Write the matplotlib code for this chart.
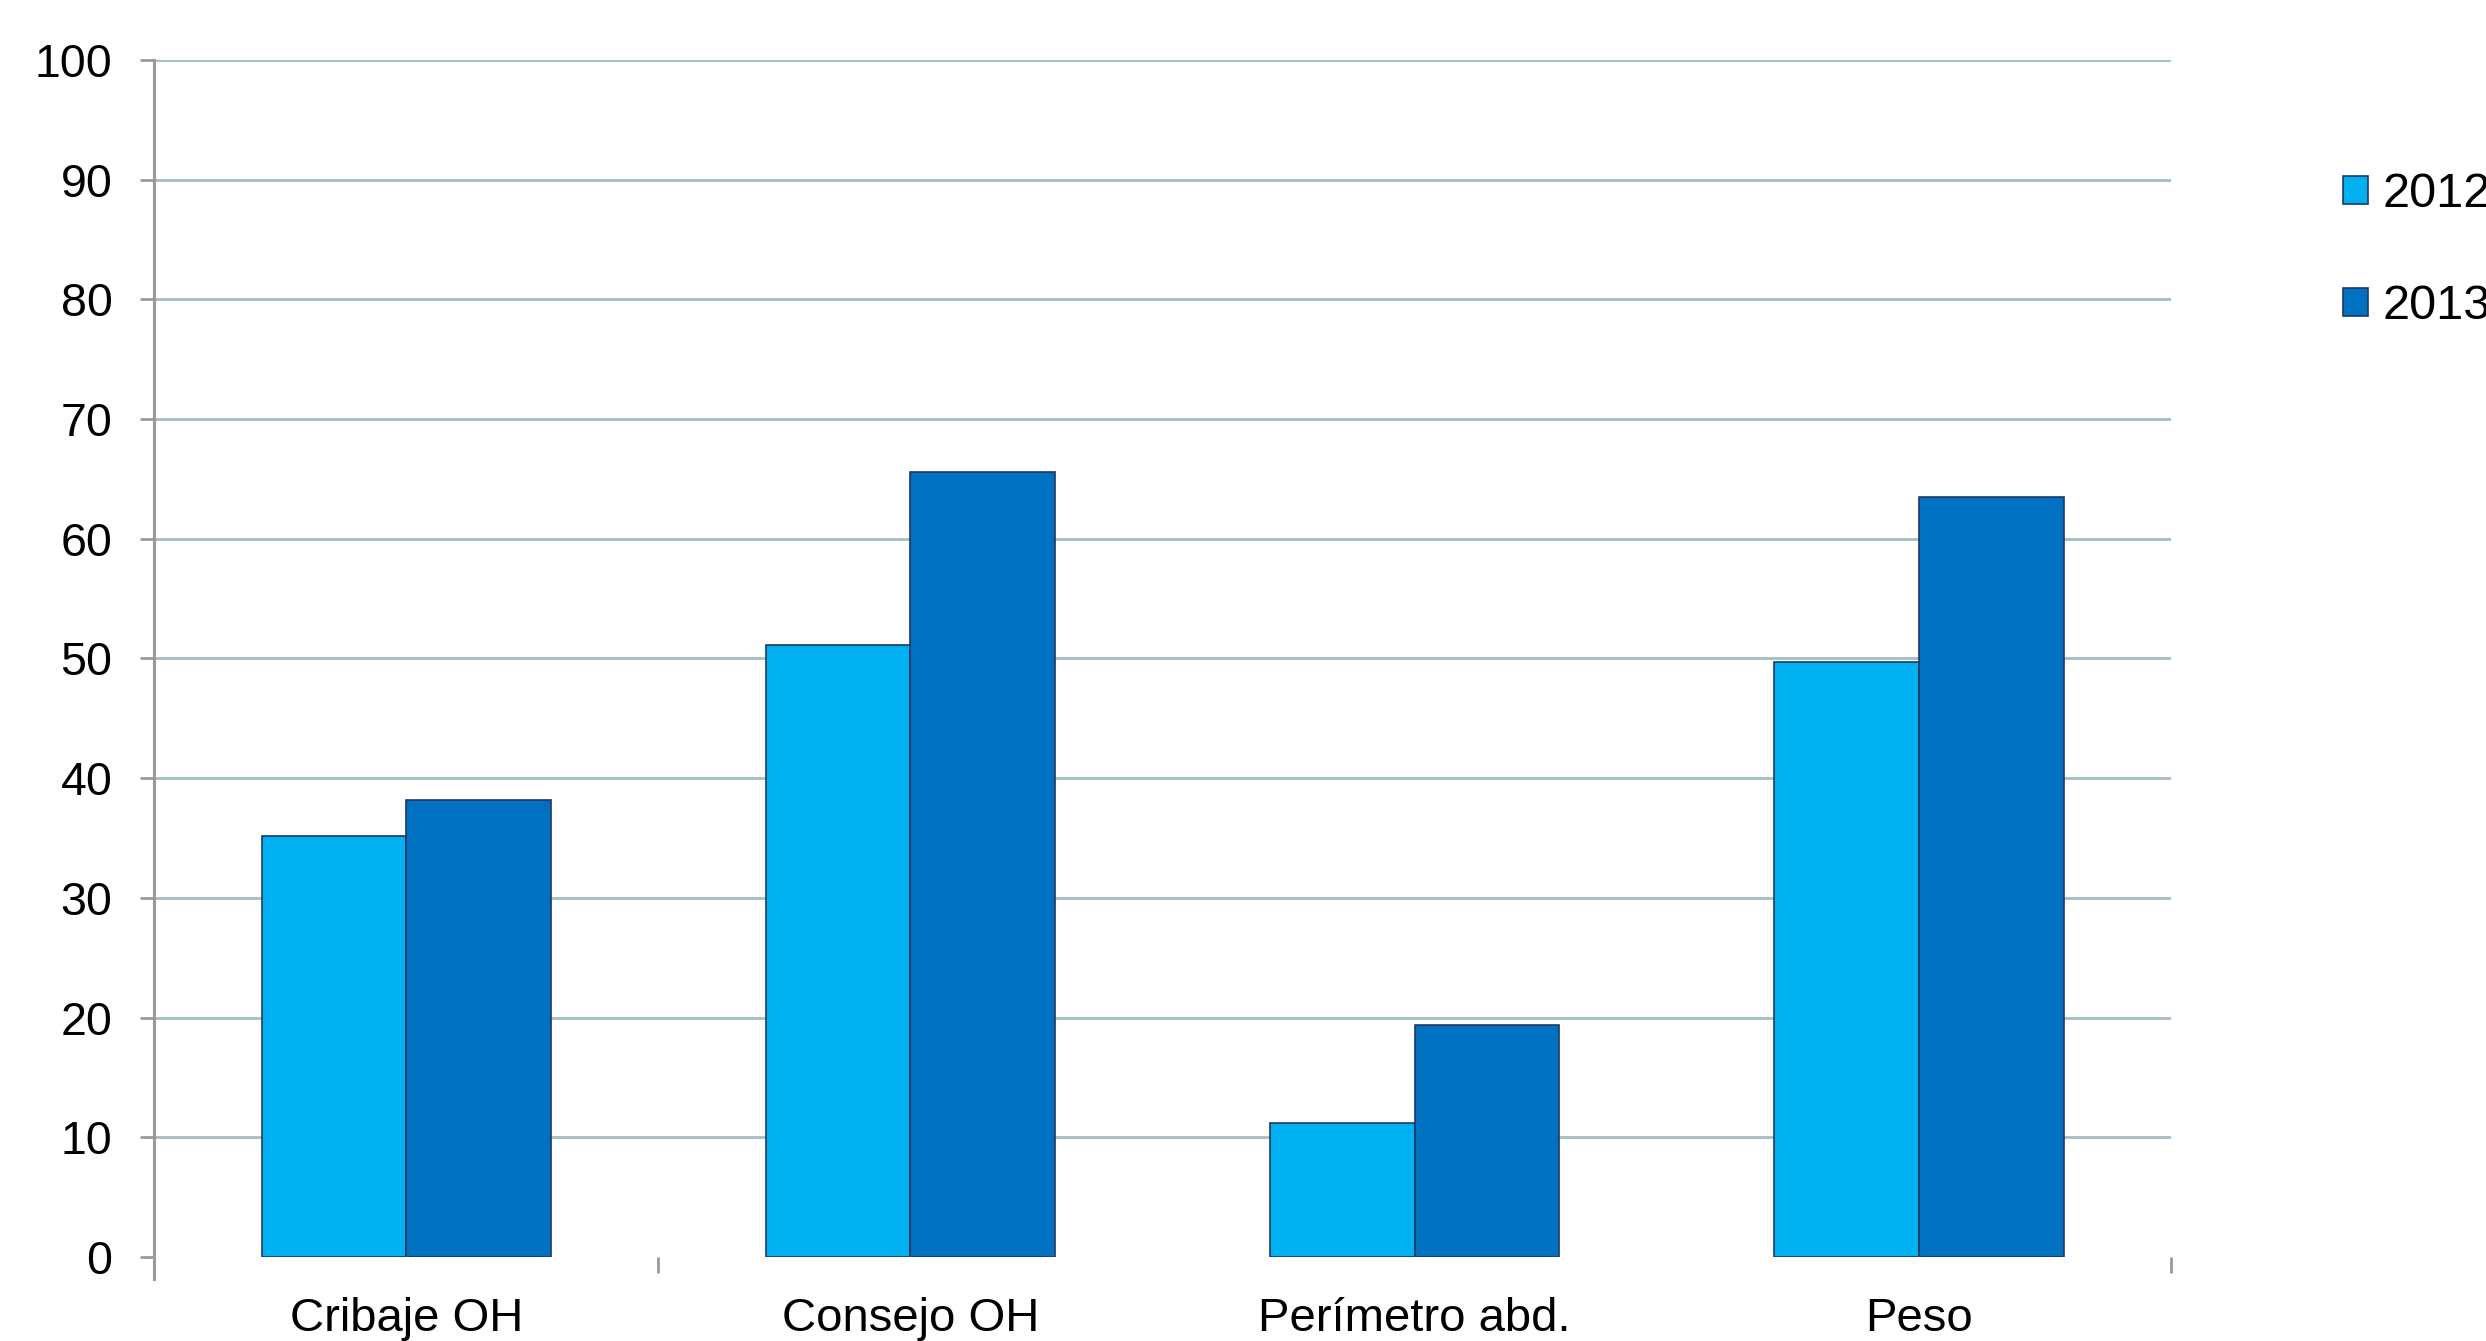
import matplotlib.pyplot as plt
import numpy as np

plt.rcParams['font.family'] = ['Liberation Sans', 'DejaVu Sans']

categories = ['Cribaje OH', 'Consejo OH', 'Perímetro abd.', 'Peso']
years = ['2012', '2013']
values_2012 = [35.2, 51.1, 11.2, 49.7]
values_2013 = [38.2, 65.6, 19.4, 63.5]
y_ticks = [0, 10, 20, 30, 40, 50, 60, 70, 80, 90, 100]

c12 = '#00B0F0'
c13 = '#0070C0'
edge = '#1F3864'
grid_c = '#A3BEC2'
axis_c = '#9A9A9A'

fig = plt.figure(figsize=(24.86, 13.41), dpi=100)
ax = fig.add_axes([0.062, 0.0626, 0.8113, 0.8927])

x = np.arange(len(categories))
w = 0.287
b1 = ax.bar(x - w / 2, values_2012, width=w, color=c12, edgecolor=edge, linewidth=1.2, label=years[0], zorder=3)
b2 = ax.bar(x + w / 2, values_2013, width=w, color=c13, edgecolor=edge, linewidth=1.2, label=years[1], zorder=3)

ax.set_xlim(-0.5, 3.5)
ax.set_ylim(0, 100)
ax.set_yticks(y_ticks)
# gridlines (none at zero in the original)
ax.hlines(y_ticks[1:], -0.5, 3.5, color=grid_c, linewidth=2, zorder=0)

for s in ['top', 'right', 'bottom', 'left']:
    ax.spines[s].set_visible(False)
# y axis line, running a bit below zero like the original
ax.plot([0, 0], [-0.018, 1], transform=ax.transAxes, color=axis_c, linewidth=2.2, clip_on=False, zorder=4)

ax.tick_params(axis='y', length=10, width=2, color=axis_c, labelsize=33.5, pad=20)
ax.set_xticks(x)
ax.set_xticklabels(categories, fontsize=34)
ax.tick_params(axis='x', which='major', length=0, pad=29)
ax.set_xticks([0.5, 3.5], minor=True)
ax.tick_params(axis='x', which='minor', length=11.5, width=2, color=axis_c)

leg = fig.legend(handles=[b1, b2], labels=years, loc='upper left',
                 bbox_to_anchor=(2343 / 2486, 1 - 172 / 1341), frameon=False,
                 fontsize=35, handlelength=0.52, handleheight=0.52,
                 handletextpad=0.3, labelspacing=1.38, borderpad=0, borderaxespad=0)
for h in leg.legend_handles:
    h.set_linewidth(1.2)

fig.savefig('out.png', dpi=100)
